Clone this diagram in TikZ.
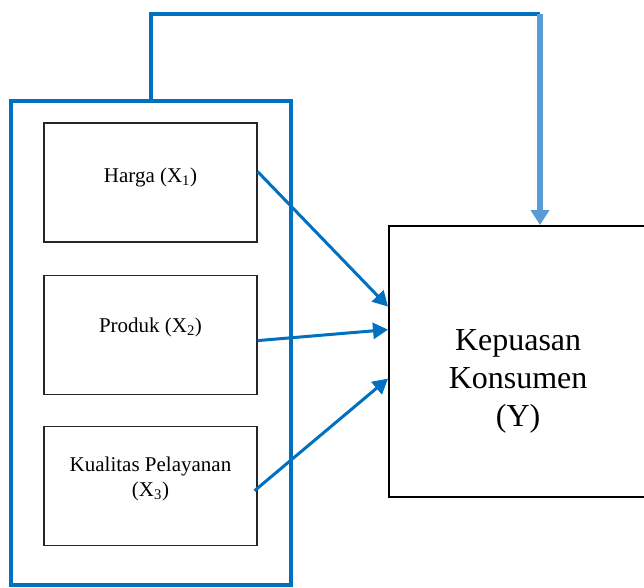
\documentclass[tikz,border=0pt]{standalone}
\usepackage{fontspec}
\setmainfont{Liberation Serif}
\usepackage{tikz}
\usetikzlibrary{arrows.meta, positioning, calc}

\definecolor{darkblue}{HTML}{0070C0}
\definecolor{lightblue}{HTML}{5B9BD5}

\begin{document}
\begin{tikzpicture}[
    x=1pt, y=-1pt,
    varbox/.style={
        draw=black!85,
        line width=1.1pt,
        minimum width=213pt,
        minimum height=119pt,
        inner sep=0pt
    },
    small/.style={
        font=\fontsize{21}{25}\selectfont,
        align=center
    },
    link/.style={
        draw=darkblue,
        line width=3pt,
        -{Triangle[length=15pt,width=16pt]}
    }
]
\useasboundingbox (0,0) rectangle (644,587);

% Group of independent variables
\node[draw=darkblue, line width=3.6pt, minimum width=280pt, minimum height=484pt,
      inner sep=0pt] (grup) at (151,343) {};

% X boxes
\node[varbox] (harga) at (150.5,182.5) {};
\node[small, yshift=5pt] at (harga.center) {Harga (X\textsubscript{1})};

\node[varbox, below=32pt of harga] (produk) {};
\node[small, yshift=7pt] at (produk.center) {Produk (X\textsubscript{2})};

\node[varbox, below=31pt of produk] (kualitas) {};
\node[small, yshift=7pt] at (kualitas.center) {Kualitas Pelayanan\\(X\textsubscript{3})};

% Y box
\node[draw=black, line width=2.2pt, minimum width=258pt, minimum height=271pt,
      inner sep=0pt, anchor=north west] (kepuasan) at (388,225) {};
\node[font=\fontsize{32}{38}\selectfont, align=center, yshift=-20pt]
    at (kepuasan.center) {Kepuasan\\Konsumen\\(Y)};

% Connections X -> Y
\draw[link] ([yshift=11pt]harga.east) -- ([yshift=55pt]kepuasan.west);
\draw[link] ([yshift=-6pt]produk.east) -- ([yshift=32pt]kepuasan.west);
\draw[link] ([xshift=-3pt, yshift=-5pt]kualitas.east) -- ([yshift=-17pt]kepuasan.west);

% Simultaneous effect
\coordinate (belok) at (540,14);
\draw[darkblue, line width=3.6pt] (grup.north) -- (grup.north |- belok) -- (belok);
\draw[lightblue, line width=6pt, -{Triangle[length=15pt,width=18pt]}]
    (belok) -- (belok |- kepuasan.north);

\end{tikzpicture}
\end{document}
